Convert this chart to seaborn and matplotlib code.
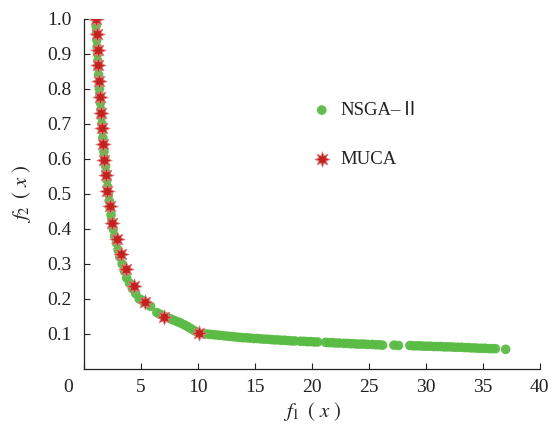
import matplotlib
matplotlib.use("Agg")
import matplotlib.pyplot as plt
import matplotlib.transforms as mtransforms
import seaborn as sns
import pandas as pd

# NSGA-II front
nsga_f1 = [1.05, 1.07, 1.10, 1.13, 1.16, 1.20, 1.22, 1.25, 1.29, 1.33, 1.36, 1.40, 1.45, 1.50,
           1.54, 1.58, 1.62, 1.66, 1.71, 1.76, 1.83, 1.90, 1.95, 2.02, 2.08, 2.14, 2.22, 2.30,
           2.38, 2.46, 2.57, 2.70, 2.85, 3.00, 3.15, 3.35, 3.55, 3.75, 4.00, 4.25, 4.55, 4.85,
           5.05, 5.30, 5.60, 5.85, 6.40, 6.70, 7.00, 7.30, 7.60, 7.90, 8.20, 8.50, 8.80, 9.10,
           9.40, 9.70, 10.0, 10.4, 10.7, 11.0, 11.3, 11.6, 11.9, 12.2, 12.5, 12.8, 13.1, 13.4,
           13.7, 14.0, 14.3, 14.6, 14.9, 15.2, 15.5, 15.8, 16.1, 16.4, 16.7, 17.0, 17.3, 17.6,
           17.9, 18.2, 18.5, 19.0, 19.3, 19.6, 19.9, 20.2, 20.5, 21.2, 21.5, 21.8, 22.1, 22.4,
           22.8, 23.1, 23.4, 23.7, 24.0, 24.3, 24.6, 24.9, 25.3, 25.6, 25.9, 26.2, 27.2, 27.6,
           28.6, 28.9, 29.2, 29.5, 29.8, 30.1, 30.4, 30.7, 31.0, 31.3, 31.6, 31.9, 32.2, 32.5,
           32.8, 33.1, 33.4, 33.7, 34.0, 34.3, 34.6, 34.9, 35.2, 35.5, 35.8, 36.1, 37.0]
nsga_f2 = [1.00, 0.98, 0.96, 0.94, 0.92, 0.90, 0.88, 0.86, 0.84, 0.82, 0.80, 0.78, 0.76, 0.74,
           0.72, 0.70, 0.68, 0.66, 0.64, 0.62, 0.60, 0.58, 0.56, 0.54, 0.52, 0.50, 0.48, 0.46,
           0.44, 0.42, 0.40, 0.38, 0.36, 0.34, 0.32, 0.30, 0.28, 0.26, 0.245, 0.23, 0.215, 0.20,
           0.197, 0.190, 0.184, 0.179, 0.161, 0.156, 0.151, 0.147, 0.143, 0.139, 0.135, 0.131, 0.126, 0.121,
           0.115, 0.109, 0.104, 0.101, 0.100, 0.099, 0.098, 0.097, 0.096, 0.095, 0.094, 0.093, 0.092, 0.091,
           0.090, 0.089, 0.089, 0.088, 0.087, 0.087, 0.086, 0.085, 0.085, 0.084, 0.083, 0.083, 0.082, 0.082,
           0.081, 0.080, 0.080, 0.079, 0.079, 0.078, 0.078, 0.077, 0.077, 0.076, 0.075, 0.075, 0.074, 0.074,
           0.073, 0.073, 0.072, 0.072, 0.071, 0.071, 0.071, 0.070, 0.070, 0.069, 0.069, 0.068, 0.068, 0.067,
           0.067, 0.066, 0.066, 0.066, 0.065, 0.065, 0.065, 0.064, 0.064, 0.064, 0.063, 0.063, 0.063, 0.062,
           0.062, 0.062, 0.061, 0.061, 0.060, 0.060, 0.059, 0.059, 0.059, 0.058, 0.058, 0.058, 0.056]

# MUCA solutions
muca_f1 = [1.05, 1.11, 1.20, 1.23, 1.34, 1.40, 1.52, 1.58, 1.64, 1.72, 1.93, 2.05,
           2.28, 2.43, 2.87, 3.22, 3.68, 4.39, 5.38, 7.02, 10.11]
muca_f2 = [1.000, 0.956, 0.911, 0.867, 0.823, 0.777, 0.732, 0.687, 0.642, 0.597, 0.553, 0.508,
           0.464, 0.418, 0.371, 0.329, 0.285, 0.237, 0.192, 0.149, 0.102]

x_ticks = [0, 5, 10, 15, 20, 25, 30, 35, 40]
y_ticks = [0.1, 0.2, 0.3, 0.4, 0.5, 0.6, 0.7, 0.8, 0.9, 1.0]

sns.set_theme(style="ticks")
plt.rcParams['font.family'] = ['Liberation Serif', 'Noto Sans CJK SC', 'DejaVu Sans']
plt.rcParams['mathtext.fontset'] = 'stix'

fig = plt.figure(figsize=(5.52, 4.28), dpi=100)
ax = fig.add_axes([0.152, 0.138, 0.826, 0.818])

nsga = pd.DataFrame({"f1": nsga_f1, "f2": nsga_f2})
muca = pd.DataFrame({"f1": muca_f1, "f2": muca_f2})

sns.scatterplot(data=nsga, x="f1", y="f2", ax=ax, color="#5abb45", s=48,
                edgecolor="none", alpha=0.95, label="NSGA–Ⅱ", zorder=2)
sns.scatterplot(data=muca, x="f1", y="f2", ax=ax, color="#c4211f", s=120,
                marker=(8, 1, 0), edgecolor="#e08080", linewidth=0.6,
                label="MUCA", zorder=3)

ax.set_xlim(0, 40)
ax.set_ylim(0, 1.0)
ax.set_xticks(x_ticks)
ax.set_xticklabels([str(t) for t in x_ticks])
ax.set_yticks(y_ticks)
ax.set_yticklabels([f"{t:.1f}" for t in y_ticks])
ax.tick_params(direction="in", length=4, width=0.8, colors="#222222", labelsize=14,
               labelcolor="#222222")
ax.tick_params(axis='x', pad=7)
ax.tick_params(axis='y', pad=9)
for s in ["top", "right"]:
    ax.spines[s].set_visible(False)
for s in ["left", "bottom"]:
    ax.spines[s].set_linewidth(0.9)
    ax.spines[s].set_color("#222222")

# shift the "0" x label to the left like the reference
lbl0 = ax.get_xticklabels()[0]
lbl0.set_transform(lbl0.get_transform() + mtransforms.ScaledTranslation(-16/100, 0, fig.dpi_scale_trans))

ax.set_xlabel(r"$f_1\ \,(\ x\ )$", fontsize=15, labelpad=3, color="#222222")
ax.set_ylabel(r"$f_2\ \,(\ x\ )$", fontsize=15, labelpad=10, color="#222222")

leg = ax.legend(loc="upper left", bbox_to_anchor=(0.46, 0.811), frameon=False,
                fontsize=13.5, labelspacing=1.7, handlelength=1.2, handletextpad=0.4,
                markerscale=1.0)
for t in leg.get_texts():
    t.set_color("#222222")

fig.savefig("out.png", dpi=100, facecolor="white")
